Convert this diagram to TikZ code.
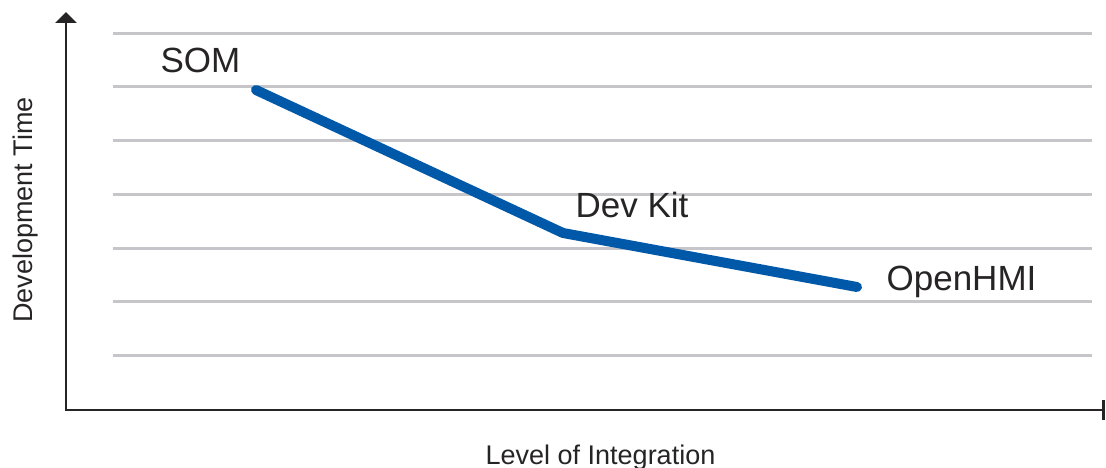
\documentclass[tikz,border=0pt]{standalone}
\usepackage{fontspec}
\setmainfont{Liberation Sans}
\usepackage{tikz}
\usetikzlibrary{arrows.meta}
\definecolor{TrendBlue}{HTML}{0058A8}
\definecolor{GridGray}{HTML}{C6C6CA}
\definecolor{AxisBlack}{HTML}{262425}

\begin{document}
\begin{tikzpicture}[x=1pt,y=-1pt,
    gridline/.style={GridGray,line width=3pt},
    axisline/.style={AxisBlack,line width=2.8pt},
    trend/.style={TrendBlue,line width=10pt,line cap=round,line join=round},
    pointlabel/.style={text=AxisBlack,font=\fontsize{35}{38}\selectfont,inner sep=0pt,anchor=base},
    axislabel/.style={text=AxisBlack,font=\fontsize{27}{30}\selectfont,inner sep=0pt,anchor=base}]
    \useasboundingbox (0,0) rectangle (1106,468);

    % grid
    \foreach \i in {0,...,6}
        \draw[gridline] (113,33.3+53.7*\i) -- (1092,33.3+53.7*\i);

    % axes
    \coordinate (ytop) at (66,12);
    \coordinate (origin) at (66,410);
    \coordinate (xend) at (1104.5,410);
    \draw[axisline,{Triangle[width=21pt,length=11pt]}-{Bar[width=20pt]}] (ytop) -- (origin) -- (xend);

    % trend
    \coordinate (som) at (256,90);
    \coordinate (devkit) at (563,233);
    \coordinate (openhmi) at (857,287);
    \draw[trend] (som) -- (devkit) -- (openhmi);

    \node[pointlabel] (somlabel) at (200.5,73) {SOM};
    \node[pointlabel] (devkitlabel) at (632,217) {Dev Kit};
    \node[pointlabel] (openhmilabel) at (961.5,290) {OpenHMI};

    \node[axislabel] (xlabel) at (600.5,464.5) {Level of Integration};
    \node[axislabel,rotate=90] (ylabel) at (32,210) {Development Time};
\end{tikzpicture}
\end{document}
